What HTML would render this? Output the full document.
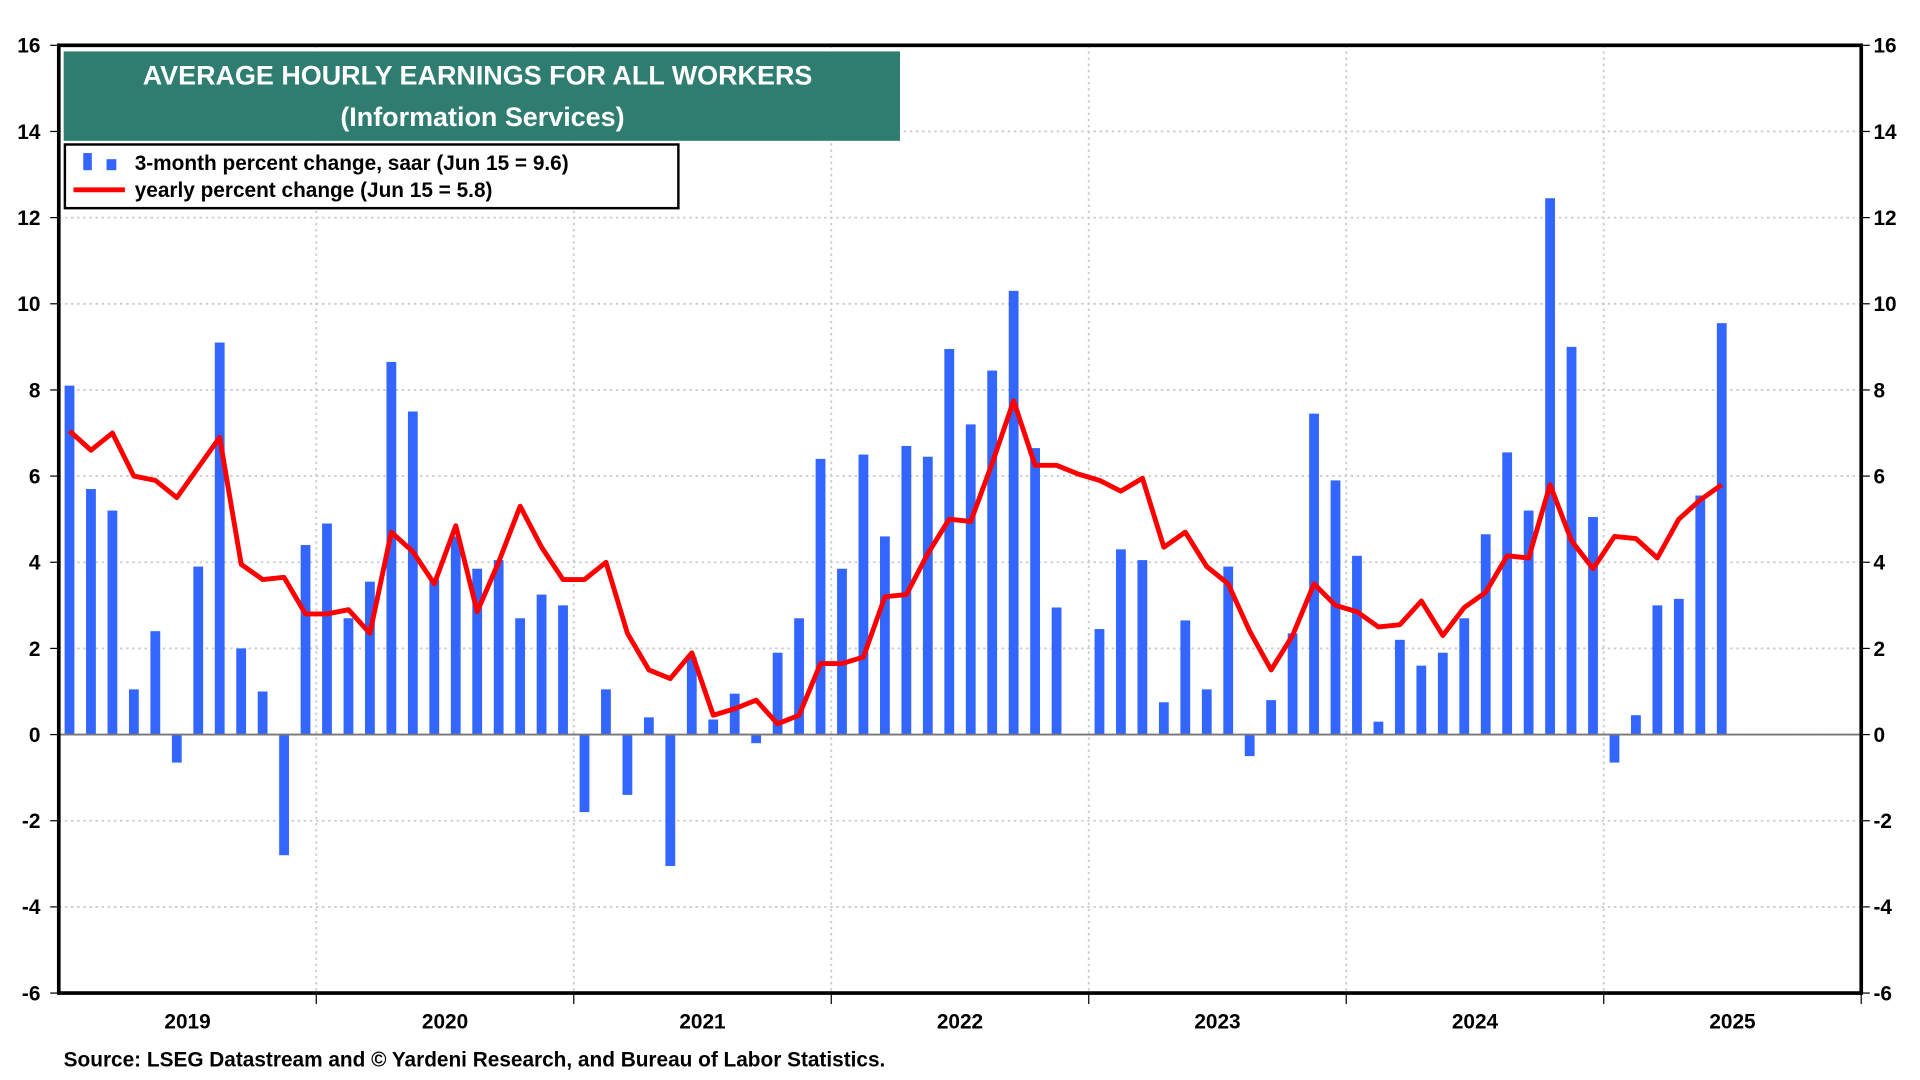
<!DOCTYPE html>
<html><head><meta charset="utf-8"><style>
html,body{margin:0;padding:0;background:#fff;}
svg{display:block;font-family:"Liberation Sans",Arial,sans-serif;font-weight:bold;}
</style></head><body>
<svg id="chart" width="1920" height="1080" viewBox="0 0 1568 882" xmlns="http://www.w3.org/2000/svg">
<g id="grid"></g>
<g id="bars"></g>
<line id="zero" stroke="#777" stroke-width="1.5"/>
<polyline id="line" fill="none" stroke="#ff0000" stroke-width="4" stroke-linejoin="round"/>
<rect x="48" y="37" width="1472" height="774" fill="none" stroke="#000" stroke-width="3"/>
<g id="axes"></g>
<rect x="52" y="42" width="683" height="73" fill="#2e7d70"/>
<text x="390" y="69" fill="#fff" font-size="22" text-anchor="middle">AVERAGE HOURLY EARNINGS FOR ALL WORKERS</text>
<text x="394" y="103" fill="#fff" font-size="22" text-anchor="middle">(Information Services)</text>
<g>
<rect x="53" y="118" width="501" height="52" fill="#fff" stroke="#000" stroke-width="2"/>
<rect x="68" y="125" width="7" height="14" fill="#3366ff"/>
<rect x="87" y="130" width="8" height="9" fill="#3366ff"/>
<text x="110" y="139" font-size="17">3-month percent change, saar (Jun 15 = 9.6)</text>
<line x1="60" y1="155" x2="102" y2="155" stroke="#ff0000" stroke-width="4"/>
<text x="110" y="161" font-size="17">yearly percent change (Jun 15 = 5.8)</text>
</g>
<text x="52" y="871" font-size="17">Source: LSEG Datastream and © Yardeni Research, and Bureau of Labor Statistics.</text>
</svg>
<script>
const years = ["2019","2020","2021","2022","2023","2024","2025"];
const yTicks = [-6,-4,-2,0,2,4,6,8,10,12,14,16];
const barValues = [8.1,5.7,5.2,1.05,2.4,-0.65,3.9,9.1,2.0,1.0,-2.8,4.4,
4.9,2.7,3.55,8.65,7.5,3.6,4.6,3.85,4.05,2.7,3.25,3.0,
-1.8,1.05,-1.4,0.4,-3.05,1.8,0.35,0.95,-0.2,1.9,2.7,6.4,
3.85,6.5,4.6,6.7,6.45,8.95,7.2,8.45,10.3,6.65,2.95,0,
2.45,4.3,4.05,0.75,2.65,1.05,3.9,-0.5,0.8,2.35,7.45,5.9,
4.15,0.3,2.2,1.6,1.9,2.7,4.65,6.55,5.2,12.45,9.0,5.05,
-0.65,0.45,3.0,3.15,5.55,9.55];
const lineValues = [7.05,6.6,7.0,6.0,5.9,5.5,6.2,6.9,3.95,3.6,3.65,2.8,
2.8,2.9,2.35,4.7,4.25,3.5,4.85,2.85,4.0,5.3,4.35,3.6,
3.6,4.0,2.35,1.5,1.3,1.9,0.45,0.6,0.8,0.25,0.45,1.65,
1.65,1.8,3.2,3.25,4.2,5.0,4.95,6.3,7.75,6.25,6.25,6.05,
5.9,5.65,5.95,4.35,4.7,3.9,3.5,2.4,1.5,2.3,3.5,3.0,
2.85,2.5,2.55,3.1,2.3,2.95,3.3,4.15,4.1,5.8,4.5,3.85,
4.6,4.55,4.1,5.0,5.45,5.8];
const NS="http://www.w3.org/2000/svg";
const L=48,R=1520,T=37,B=811,yMin=-6,yMax=16;
const monthW=(R-L)/84;
const y=v=>B-(v-yMin)/(yMax-yMin)*(B-T);
const x=i=>L+(i+0.5)*monthW;
function mk(tag,attrs,parent){const e=document.createElementNS(NS,tag);for(const k in attrs)e.setAttribute(k,attrs[k]);parent.appendChild(e);return e;}
const grid=document.getElementById('grid'),axes=document.getElementById('axes'),bars=document.getElementById('bars');
yTicks.forEach(v=>{
  if(v>yMin&&v<yMax){const g=mk('line',{x1:L,x2:R,y1:y(v),y2:y(v),stroke:'#ccc','stroke-width':1.5,'stroke-dasharray':'2,3'},grid);
  
  }
  mk('line',{x1:L-7,x2:L,y1:y(v),y2:y(v),stroke:'#000','stroke-width':1},axes);
  mk('line',{x1:R,x2:R+7,y1:y(v),y2:y(v),stroke:'#000','stroke-width':1},axes);
  const t1=mk('text',{x:33,y:y(v)+6,'font-size':17,'text-anchor':'end'},axes);t1.textContent=v;
  
  
  const t2=mk('text',{x:1530,y:y(v)+6,'font-size':17},axes);t2.textContent=v;
  
  
});
years.forEach((yr,k)=>{
  const xb=L+(k+1)*12*monthW;
  if(k<years.length-1){const g=mk('line',{x1:xb,x2:xb,y1:T,y2:B,stroke:'#ccc','stroke-width':1.5,'stroke-dasharray':'2,3'},grid);
  
  }
  mk('line',{x1:xb,x2:xb,y1:B,y2:B+9,stroke:'#000','stroke-width':1},axes);
  const t=mk('text',{x:L+(k+0.5)*12*monthW,y:840,'font-size':17,'text-anchor':'middle'},axes);t.textContent=yr;
  
  
});
const bw=8;
barValues.forEach((v,i)=>{
  const r=mk('rect',{x:x(i)-bw/2,y:Math.min(y(v),y(0)),width:bw,height:Math.abs(y(v)-y(0)),fill:'#3366ff'},bars);
  
  
});
const z=document.getElementById('zero');z.setAttribute('x1',L);z.setAttribute('x2',R);z.setAttribute('y1',y(0));z.setAttribute('y2',y(0));
document.getElementById('line').setAttribute('points',lineValues.map((v,i)=>x(i).toFixed(1)+','+y(v).toFixed(1)).join(' '));
</script>
</body></html>
